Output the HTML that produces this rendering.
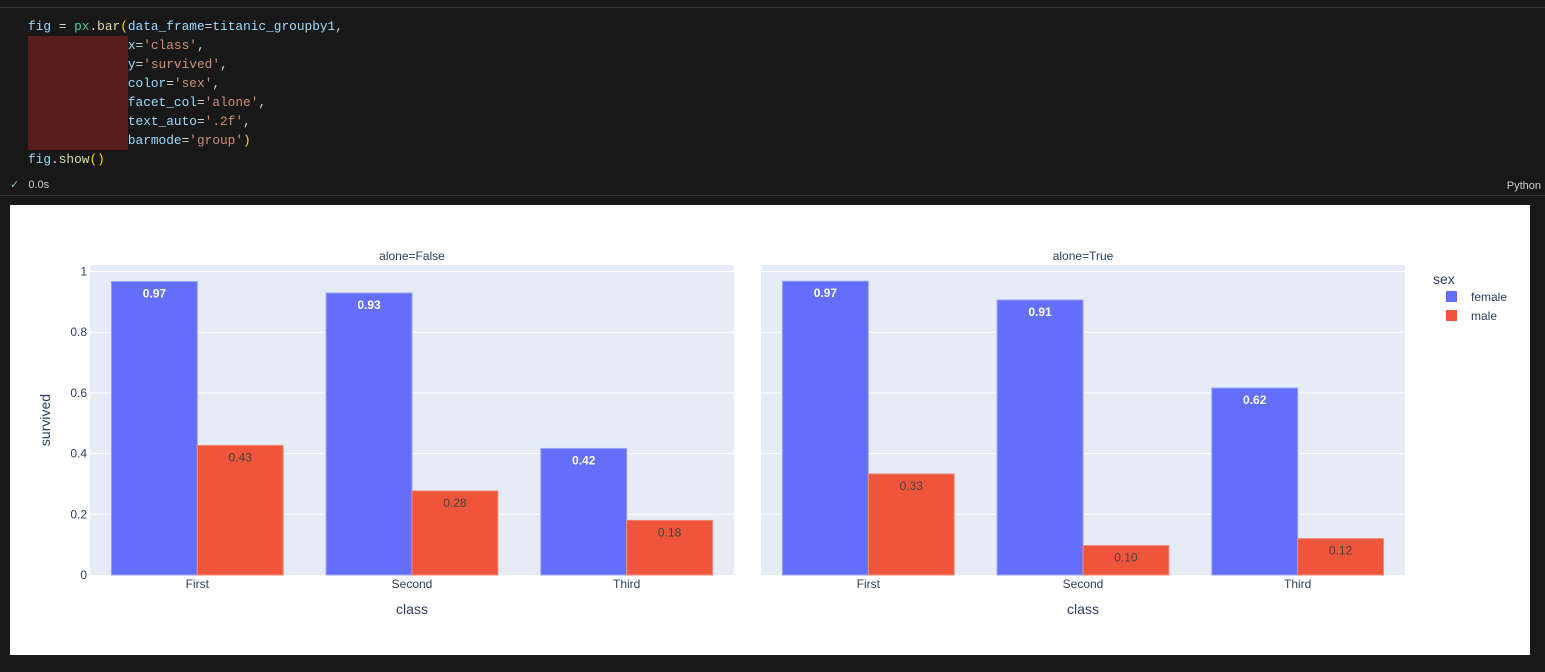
<!DOCTYPE html>
<html><head><meta charset="utf-8">
<style>
body{margin:0;width:1545px;height:672px;background:#181818;overflow:hidden;font-family:"Liberation Sans",sans-serif;position:relative}
.code{position:absolute;left:28px;top:17px;font-family:"Liberation Mono","DejaVu Sans Mono",monospace;font-size:12.8px;line-height:19px;color:#9cdcfe;white-space:pre}
.s{color:#ce9178}.f{color:#4ec9b0}.p{color:#ffd700}.w{color:#d4d4d4}.y{color:#dcdcaa}
</style></head><body>
<div style="position:absolute;left:0;top:7px;width:1545px;height:1px;background:#333"></div>
<div style="position:absolute;left:28px;top:36px;width:100px;height:114px;background:#5a1d1d"></div>
<div class="code">fig <span class="w">=</span> <span class="f">px</span><span class="w">.</span><span class="y">bar</span><span class="p">(</span>data_frame<span class="w">=</span>titanic_groupby1<span class="w">,</span>
             x<span class="w">=</span><span class="s">'class'</span><span class="w">,</span>
             y<span class="w">=</span><span class="s">'survived'</span><span class="w">,</span>
             color<span class="w">=</span><span class="s">'sex'</span><span class="w">,</span>
             facet_col<span class="w">=</span><span class="s">'alone'</span><span class="w">,</span>
             text_auto<span class="w">=</span><span class="s">'.2f'</span><span class="w">,</span>
             barmode<span class="w">=</span><span class="s">'group'</span><span class="p">)</span>
fig<span class="w">.</span><span class="y">show</span><span class="p">()</span></div>
<div style="position:absolute;left:10px;top:178px;font-size:11px;color:#ccc"><span style="color:#89d185">✓</span>&nbsp;&nbsp;&nbsp;0.0s</div>
<div style="position:absolute;right:4px;top:180px;font-size:11px;color:#ccc">Python</div>
<div style="position:absolute;left:0;top:195px;width:1545px;height:1px;background:#333"></div>
<svg style="position:absolute;left:0;top:0" width="1545" height="672" font-family="Liberation Sans, sans-serif">
<rect x="10" y="205" width="1520" height="450" fill="#fff"/>
<g id="g"></g>
</svg>
<script>
const categories=['First','Second','Third'];
const facets=['False','True'];
const femaleVals=[[0.967,0.929,0.417],[0.968,0.906,0.616]];
const maleVals=[[0.427,0.277,0.180],[0.333,0.097,0.120]];
const yTicks=[0,0.2,0.4,0.6,0.8,1];
const tickLabels=['0','0.2','0.4','0.6','0.8','1'];
const NS='http://www.w3.org/2000/svg';
const g=document.getElementById('g');
const y0=575,ppu=303.5,plotTop=265,pw=644;
const plotX=[90,761];
function yS(v){return y0-v*ppu;}
function mk(t,a,txt){const e=document.createElementNS(NS,t);for(const k in a)e.setAttribute(k,a[k]);if(txt!=null)e.textContent=txt;g.appendChild(e);return e;}
facets.forEach((f,fi)=>{
  const x0=plotX[fi];
  let e=mk('rect',{x:x0,y:plotTop,width:pw,height:y0-plotTop,fill:'#e5ecf6'});
  
  
  yTicks.forEach((t,i)=>{
    if(t>0){let l=mk('line',{x1:x0,x2:x0+pw,y1:yS(t),y2:yS(t),stroke:'#fff','stroke-width':1});
    
    }
    if(fi==0){let tx=mk('text',{x:x0-3,y:yS(t)+4,'text-anchor':'end','font-size':12,fill:'#2a3f5f'},tickLabels[i]);
    
    }
  });
  let ft=mk('text',{x:x0+pw/2,y:260,'text-anchor':'middle','font-size':12,fill:'#2a3f5f'},'alone='+f);
  
  
  const cw=pw/categories.length,bw=cw*0.8/2;
  categories.forEach((c,ci)=>{
    const cx=x0+cw*(ci+0.5);
    [[femaleVals,'#636efa','#fff',cx-bw,'bold'],[maleVals,'#ef553b','#444',cx,'normal']].forEach(([arr,col,tc,bx,fw],si)=>{
      const v=arr[fi][ci];
      let r=mk('rect',{x:bx,y:yS(v),width:bw,height:y0-yS(v),fill:col,stroke:si?'#f08a78':'#9aa1fb','stroke-width':1});
      
      
      let t=mk('text',{x:bx+bw/2,y:yS(v)+16,'text-anchor':'middle','font-size':12,'font-weight':fw,fill:tc},v.toFixed(2));
      
      
    });
    let xt=mk('text',{x:cx,y:588,'text-anchor':'middle','font-size':12,fill:'#2a3f5f'},c);
    
    
  });
  let xa=mk('text',{x:x0+pw/2,y:614,'text-anchor':'middle','font-size':14,fill:'#2a3f5f'},'class');
  
  
});
let ya=mk('text',{x:50,y:420,'text-anchor':'middle','font-size':14,fill:'#2a3f5f',transform:'rotate(-90 50 420)'},'survived');


let lt=mk('text',{x:1433,y:284,'font-size':14,fill:'#2a3f5f'},'sex');


[['female','#636efa',297],['male','#ef553b',316]].forEach(([n,c,yy])=>{
  let r=mk('rect',{x:1446,y:yy-6,width:11,height:11,fill:c});
  
  
  let t=mk('text',{x:1471,y:yy+4,'font-size':12,fill:'#2a3f5f'},n);
  
  
});
</script>
</body></html>
